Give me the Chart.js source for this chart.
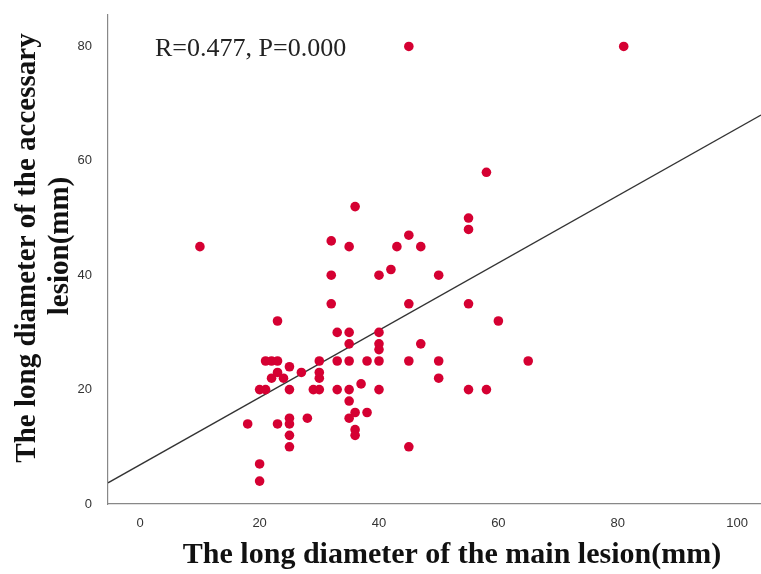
<!DOCTYPE html>
<html>
<head>
<meta charset="utf-8">
<script src="https://cdn.jsdelivr.net/npm/chart.js@4"></script>
<style>
  html, body { margin: 0; padding: 0; background: #fff; overflow: hidden; }
  #wrap { width: 761px; height: 574px; position: relative; }
</style>
</head>
<body>
<div id="wrap"><canvas id="chart"></canvas></div>
<script>
// Main lesion vs accessary lesion long diameter (mm).
const mainLesion = [
  10, 18,
  20, 20, 20, 21, 21, 22, 23, 22, 23, 24, 23, 23,
  25, 25, 25, 25, 25, 25,
  27, 28, 29, 30, 30, 30, 30,
  32, 32, 32, 33, 33, 33,
  35, 35, 35, 35, 35, 35, 35,
  36, 36, 36, 36, 37, 38, 38,
  40, 40, 40, 40, 40, 40,
  42, 43,
  45, 45, 45, 45, 45,
  47, 47,
  50, 50, 50,
  55, 55, 55, 55,
  58, 58, 60, 65, 81,
];
const accessaryLesion = [
  45, 14,
  20, 7, 4, 20, 25, 25, 25, 22, 23, 22, 32, 14,
  24, 20, 15, 14, 12, 10,
  23, 15, 20, 20, 22, 23, 25,
  46, 40, 35, 30, 25, 20,
  45, 30, 28, 25, 20, 18, 15,
  52, 16, 13, 12, 21, 25, 16,
  40, 30, 28, 27, 25, 20,
  41, 45,
  80, 47, 35, 25, 10,
  45, 28,
  40, 25, 22,
  50, 48, 35, 20,
  58, 20, 32, 25, 80,
];
// fit line end points as drawn across the plot
const fitX = [-5.4, 104];
const fitY = [3.7, 68.0];
const xTicks = [0, 20, 40, 60, 80, 100];
const yTicks = [0, 20, 40, 60, 80];
const statsLabel = "R=0.477, P=0.000";
const xTitle = "The long diameter of the main lesion(mm)";
const yTitle = ["The long diameter of the accessary", "lesion(mm)"];

const serif = "'Liberation Serif', 'Times New Roman', serif";

const titles = {
  id: "titles",
  afterDraw(chart) {
    const ctx = chart.ctx;
    ctx.save();
    ctx.fillStyle = "#111";
    ctx.textAlign = "center";
    ctx.textBaseline = "middle";
    ctx.font = "bold 30px " + serif;
    ctx.fillText(xTitle, 452, 555);
    ctx.font = "bold 29px " + serif;
    ctx.save();
    ctx.translate(28, 248);
    ctx.rotate(-Math.PI / 2);
    ctx.fillText(yTitle[0], 0, 0);
    ctx.restore();
    ctx.save();
    ctx.translate(61, 246);
    ctx.rotate(-Math.PI / 2);
    ctx.fillText(yTitle[1], 0, 0);
    ctx.restore();
    ctx.font = "26px " + serif;
    ctx.textAlign = "left";
    ctx.textBaseline = "alphabetic";
    ctx.fillStyle = "#222";
    ctx.fillText(statsLabel, 155, 56);
    ctx.restore();
  },
};

new Chart(document.getElementById("chart").getContext("2d"), {
  type: "scatter",
  data: {
    datasets: [
      {
        data: mainLesion.map((x, i) => ({ x, y: accessaryLesion[i] })),
        backgroundColor: "#d50032",
        borderWidth: 0,
        pointRadius: 4.8,
      },
      {
        type: "line",
        data: fitX.map((x, i) => ({ x, y: fitY[i] })),
        borderColor: "#333",
        borderWidth: 1.3,
        pointRadius: 0,
        fill: false,
      },
    ],
  },
  options: {
    responsive: true,
    maintainAspectRatio: false,
    animation: false,
    layout: { autoPadding: false, padding: { top: 15, left: 0, right: 0, bottom: 0 } },
    scales: {
      x: {
        type: "linear",
        min: -5.4,
        max: 104,
        afterBuildTicks: (s) => { s.ticks = xTicks.map((v) => ({ value: v })); },
        afterFit: (s) => { s.height = 70; s.paddingLeft = 0; s.paddingRight = 0; },
        grid: { display: false },
        border: { display: true, color: "#888", width: 1.2 },
        ticks: { color: "#333", padding: 4, font: { family: "'Liberation Sans', Arial, sans-serif", size: 13 } },
      },
      y: {
        min: 0,
        max: 85.5,
        afterBuildTicks: (s) => { s.ticks = yTicks.map((v) => ({ value: v })); },
        afterFit: (s) => { s.width = 108; s.paddingTop = 0; s.paddingBottom = 0; },
        grid: { display: false },
        border: { display: true, color: "#888", width: 1.2 },
        ticks: { color: "#333", padding: 8, font: { family: "'Liberation Sans', Arial, sans-serif", size: 13 } },
      },
    },
    plugins: {
      legend: { display: false },
      tooltip: { enabled: false },
    },
  },
  plugins: [titles],
});
</script>
</body>
</html>
